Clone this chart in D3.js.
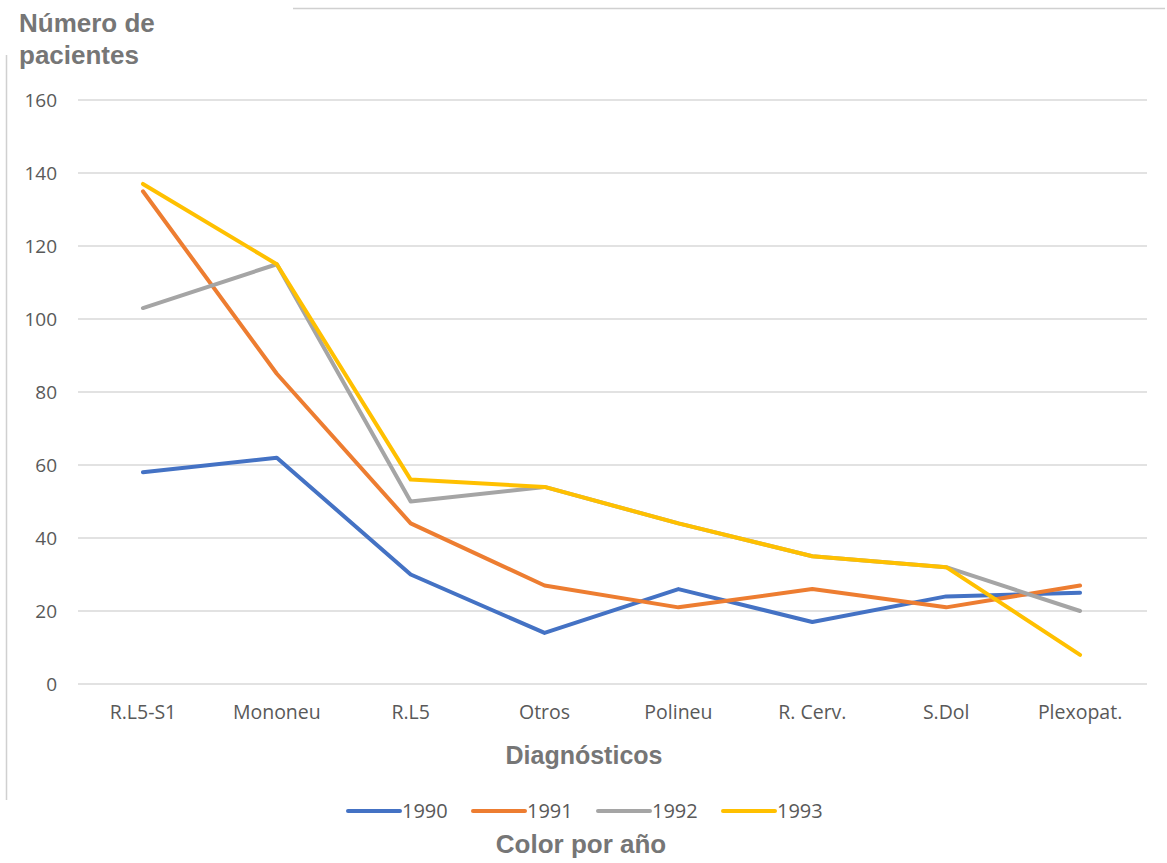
<!DOCTYPE html>
<html><head><meta charset="utf-8">
<script src="https://cdn.jsdelivr.net/npm/d3@7"></script>
<style>body{margin:0;background:#fff}svg{display:block}</style>
</head><body>
<script>
const categories = ["R.L5-S1","Mononeu","R.L5","Otros","Polineu","R. Cerv.","S.Dol","Plexopat."];
const years = ["1990","1991","1992","1993"];
const v1990 = [58,62,30,14,26,17,24,25];
const v1991 = [135,85,44,27,21,26,21,27];
const v1992 = [103,115,50,54,44,35,32,20];
const v1993 = [137,115,56,54,44,35,32,8];
const yTicks = [0,20,40,60,80,100,120,140,160];
const colors = ["#4472C4","#ED7D31","#A5A5A5","#FFC000"];
const seriesValues = [v1990,v1991,v1992,v1993];

const W=1167,H=863;
const svg=d3.select("body").append("svg").attr("width",W).attr("height",H);
const x=d3.scaleBand().domain(categories).range([76,1147]);
const y=d3.scaleLinear().domain([0,160]).range([684,100]);
const tickFont="'Open Sans','Noto Sans',sans-serif";

// frame lines
svg.append("line").attr("x1",293).attr("x2",1165).attr("y1",8.5).attr("y2",8.5).attr("stroke","#d0d0d0").attr("stroke-width",1.5);
svg.append("line").attr("x1",6.5).attr("x2",6.5).attr("y1",55).attr("y2",800).attr("stroke","#d0d0d0").attr("stroke-width",1.5);

// gridlines
svg.append("g").selectAll("line").data(yTicks).join("line")
  .attr("x1",78).attr("x2",1147).attr("y1",d=>y(d)).attr("y2",d=>y(d))
  .attr("stroke","#d9d9d9").attr("stroke-width",1.5);

// y axis
const ya=svg.append("g").attr("transform","translate(64,0)").call(d3.axisLeft(y).tickValues(yTicks).tickSize(0).tickPadding(7));
ya.select(".domain").remove();
ya.selectAll("text").attr("font-family",tickFont).attr("font-size",19).attr("fill","#595959");

// x axis
const xa=svg.append("g").attr("transform","translate(0,702)").call(d3.axisBottom(x).tickSize(0).tickPadding(3));
xa.select(".domain").remove();
xa.selectAll("text").attr("font-family",tickFont).attr("font-size",19.5).attr("fill","#595959");

// lines
const line=d3.line().x((d,i)=>x(categories[i])+x.bandwidth()/2).y(d=>y(d));
svg.append("g").selectAll("path").data(seriesValues).join("path")
  .attr("d",line).attr("fill","none").attr("stroke",(d,i)=>colors[i])
  .attr("stroke-width",4).attr("stroke-linejoin","round").attr("stroke-linecap","round");

// titles
const titleFont="Arial,'Liberation Sans',sans-serif";
const tc="#767676";
svg.append("text").attr("x",19).attr("y",32).attr("font-family",titleFont).attr("font-weight","bold").attr("font-size",26).attr("fill",tc).text("Número de");
svg.append("text").attr("x",19).attr("y",64).attr("font-family",titleFont).attr("font-weight","bold").attr("font-size",26).attr("fill",tc).text("pacientes");
svg.append("text").attr("x",584).attr("y",764).attr("text-anchor","middle").attr("font-family",titleFont).attr("font-weight","bold").attr("font-size",25).attr("fill",tc).text("Diagnósticos");
svg.append("text").attr("x",581).attr("y",853).attr("text-anchor","middle").attr("font-family",titleFont).attr("font-weight","bold").attr("font-size",26).attr("fill",tc).text("Color por año");

// legend
const legX=[348,473,598,723];
const lg=svg.append("g").selectAll("g").data(years).join("g").attr("transform",(d,i)=>`translate(${legX[i]},811)`);
lg.append("line").attr("x1",0).attr("x2",52).attr("stroke",(d,i)=>colors[i]).attr("stroke-width",4).attr("stroke-linecap","round");
lg.append("text").attr("x",54).attr("y",7).attr("font-family",tickFont).attr("font-size",20).attr("fill","#595959").text(d=>d);
</script>
</body></html>
